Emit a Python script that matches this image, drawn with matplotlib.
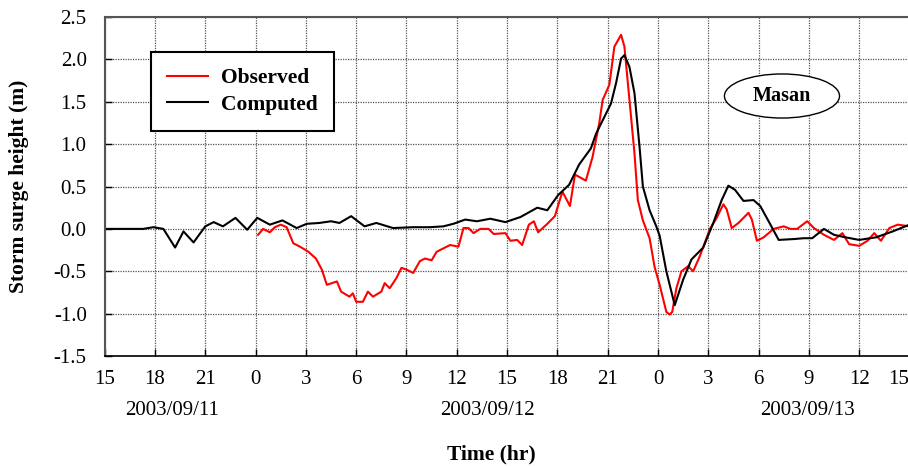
import matplotlib
matplotlib.use('Agg')
import matplotlib.pyplot as plt
from matplotlib.patches import Ellipse
from matplotlib.transforms import blended_transform_factory

# hours counted from 2003/09/11 15:00
comp_t = [0, 2.3, 2.9, 3.5, 4.2, 4.7, 5.3, 6.0, 6.5, 7.05, 7.8, 8.5, 9.1, 9.85,
          10.6, 11.45, 12.05, 12.8, 13.5, 14.0, 14.7, 15.5, 16.2, 17.2, 18.4,
          19.4, 20.2, 20.8, 21.5, 22.2, 23.0, 23.9, 24.8, 25.8, 26.4, 27.05,
          27.7, 28.3, 29.0, 29.3, 29.9, 30.2, 30.5, 30.8, 31.0, 31.3, 31.6,
          31.9, 32.1, 32.5, 32.9, 33.1, 33.5, 34.0, 34.5, 35.0, 35.7, 36.3,
          36.8, 37.2, 37.6, 38.1, 38.7, 39.1, 39.6, 40.2, 41.1, 41.7, 42.2,
          42.9, 43.5, 44.2, 45.0, 46.0, 47.0, 48.0]
comp_v = [0.0, 0.0, 0.02, 0.0, -0.22, -0.03, -0.16, 0.03, 0.08, 0.03, 0.13,
          -0.01, 0.13, 0.05, 0.10, 0.01, 0.06, 0.07, 0.09, 0.07, 0.15, 0.03,
          0.07, 0.01, 0.02, 0.02, 0.03, 0.06, 0.11, 0.09, 0.12, 0.08, 0.14,
          0.25, 0.22, 0.40, 0.52, 0.76, 0.95, 1.12, 1.36, 1.48, 1.72, 2.01,
          2.05, 1.91, 1.60, 0.97, 0.50, 0.22, 0.03, -0.08, -0.50, -0.90, -0.60,
          -0.36, -0.22, 0.07, 0.34, 0.51, 0.46, 0.33, 0.34, 0.27, 0.09, -0.13,
          -0.12, -0.11, -0.11, 0.0, -0.07, -0.10, -0.13, -0.10, -0.03, 0.05]

obs_t = [9.15, 9.45, 9.85, 10.15, 10.5, 10.85, 11.25, 11.65, 12.15, 12.6,
         12.95, 13.25, 13.85, 14.1, 14.6, 14.8, 15.0, 15.4, 15.7, 16.0, 16.5,
         16.7, 17.0, 17.4, 17.7, 18.0, 18.4, 18.8, 19.1, 19.5, 19.8, 20.2,
         20.6, 21.1, 21.4, 21.7, 22.0, 22.4, 22.9, 23.2, 23.9, 24.2, 24.6,
         24.9, 25.3, 25.6, 25.85, 26.35, 26.85, 27.3, 27.75, 28.05, 28.7,
         29.1, 29.5, 29.7, 30.1, 30.4, 30.8, 31.0, 31.3, 31.6, 31.8, 32.1,
         32.5, 32.8, 33.1, 33.5, 33.7, 33.85, 34.1, 34.4, 34.8, 35.1, 35.5,
         36.1, 36.5, 36.9, 37.1, 37.4, 37.8, 38.4, 38.6, 38.9, 39.3, 39.9,
         40.5, 40.9, 41.3, 41.9, 42.3, 42.9, 43.5, 44.0, 44.4, 45.0, 45.5,
         45.9, 46.3, 46.8, 47.3, 48.0]
obs_v = [-0.07, 0.0, -0.04, 0.02, 0.05, 0.02, -0.17, -0.21, -0.27, -0.35,
         -0.48, -0.66, -0.62, -0.74, -0.80, -0.76, -0.86, -0.86, -0.74, -0.80,
         -0.74, -0.64, -0.70, -0.58, -0.46, -0.48, -0.52, -0.38, -0.35, -0.37,
         -0.27, -0.23, -0.19, -0.21, 0.01, 0.01, -0.05, 0.0, 0.0, -0.06, -0.05,
         -0.14, -0.13, -0.19, 0.05, 0.09, -0.04, 0.05, 0.15, 0.44, 0.27, 0.64,
         0.57, 0.85, 1.25, 1.52, 1.70, 2.15, 2.29, 2.15, 1.52, 0.89, 0.34,
         0.10, -0.11, -0.45, -0.66, -0.98, -1.01, -0.98, -0.70, -0.50, -0.44,
         -0.50, -0.32, 0.0, 0.13, 0.29, 0.23, 0.01, 0.07, 0.19, 0.11, -0.14,
         -0.10, 0.0, 0.03, 0.0, 0.0, 0.09, 0.01, -0.07, -0.13, -0.05, -0.18,
         -0.20, -0.14, -0.05, -0.14, 0.01, 0.05, 0.03]

tick_hours = list(range(0, 49, 3))
tick_labels = ['15', '18', '21', '0', '3', '6', '9', '12', '15', '18', '21',
               '0', '3', '6', '9', '12', '15']
date_labels = ['2003/09/11', '2003/09/12', '2003/09/13']
date_hours = [4.0, 22.8, 41.9]

plt.rcParams['font.family'] = ['Liberation Serif', 'DejaVu Serif']
plt.rcParams['axes.unicode_minus'] = False

fig = plt.figure(figsize=(9.08, 4.66), dpi=100)
ax = fig.add_axes([0.1153, 0.236, 0.8863, 0.7275])

ax.plot(obs_t, obs_v, color='#ff0000', lw=1.5, label='Observed')
ax.plot(comp_t, comp_v, color='black', lw=1.5, label='Computed')

ax.set_xlim(0, 48)
ax.set_ylim(-1.5, 2.5)
ax.set_xticks(tick_hours)
ax.set_xticklabels(tick_labels)
ax.set_yticks([-1.5, -1.0, -0.5, 0.0, 0.5, 1.0, 1.5, 2.0, 2.5])
ax.set_yticklabels(['%.1f' % v for v in ax.get_yticks()])
ax.tick_params(direction='in', length=5, width=1, labelsize=15, colors='black')
ax.tick_params(axis='y', pad=13)
ax.tick_params(axis='x', pad=10)
lbls = ax.get_xticklabels()
lbls[-1].set_horizontalalignment('right')
ax.grid(True, color='#555555', linestyle=(0, (1, 1)), linewidth=0.9)
for s in ['left', 'top']:
    ax.spines[s].set_color('#555555')
    ax.spines[s].set_linewidth(1.5)
ax.spines['bottom'].set_linewidth(1.2)
ax.spines['right'].set_visible(False)

trans = blended_transform_factory(ax.transData, ax.transAxes)
for h, d in zip(date_hours, date_labels):
    ax.text(h, -0.16, d, transform=trans, ha='center', va='center', fontsize=15)

ax.set_xlabel('Time (hr)', fontsize=15.5, fontweight='bold')
ax.xaxis.set_label_coords(0.481, -0.262)
ax.set_ylabel('Storm surge height (m)', fontsize=15.5, fontweight='bold')
ax.yaxis.set_label_coords(-0.094, 0.5)

leg = ax.legend(loc='upper left', bbox_to_anchor=(0.0575, 0.897),
                fancybox=False, edgecolor='black', framealpha=1,
                prop={'weight': 'bold', 'size': 15.5}, handlelength=1.9,
                borderpad=0.75, labelspacing=0.3, handletextpad=0.6,
                borderaxespad=0)
leg.get_frame().set_linewidth(1.5)

ax.add_patch(Ellipse((0.8416, 0.767), 0.143, 0.13, transform=ax.transAxes,
                     facecolor='white', edgecolor='black', lw=1.0, zorder=5))
ax.text(0.8416, 0.767, 'Masan', transform=ax.transAxes, ha='center',
        va='center', fontsize=14.5, fontweight='bold', zorder=6)

fig.savefig('out.png', dpi=100)
